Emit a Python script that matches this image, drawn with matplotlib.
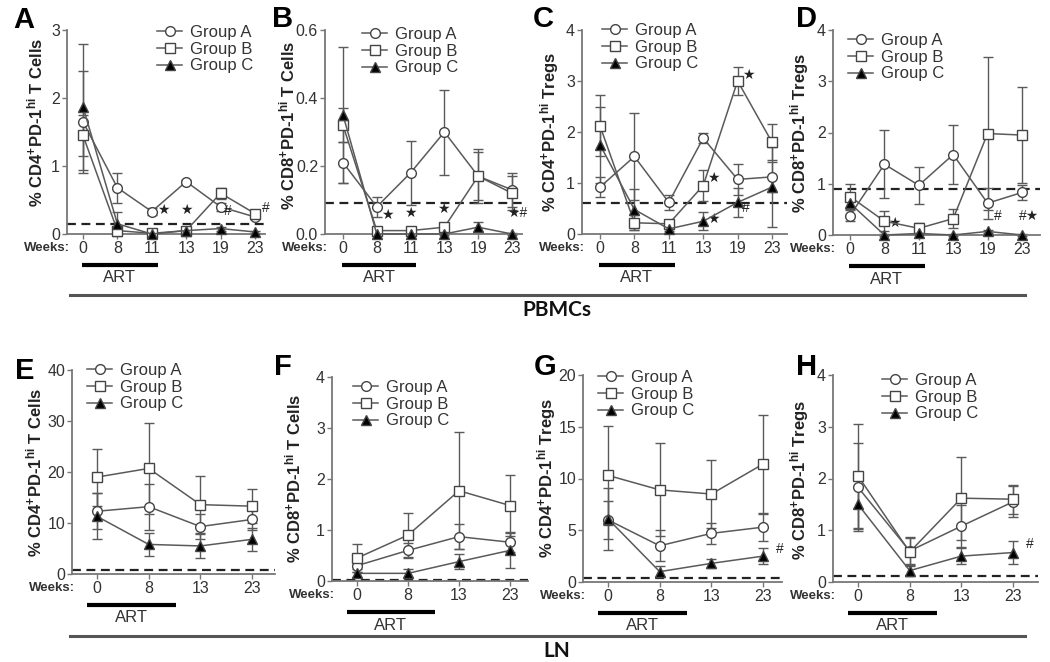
import matplotlib
matplotlib.use("Agg")
import matplotlib.pyplot as plt
from matplotlib.lines import Line2D
from matplotlib.transforms import blended_transform_factory

plt.rcParams["font.family"] = ["Liberation Sans", "DejaVu Sans"]
plt.rcParams["mathtext.fontset"] = "custom"
plt.rcParams["mathtext.rm"] = "Liberation Sans"
plt.rcParams["mathtext.bf"] = "Liberation Sans:bold"
plt.rcParams["mathtext.default"] = "bf"

W, H = 1050, 662

# ---- data ----
weeks_pbmc = ["0", "8", "11", "13", "19", "23"]
weeks_ln = ["0", "8", "13", "23"]
groups = ["Group A", "Group B", "Group C"]

a_grp_a = [1.65, 0.68, 0.33, 0.77, 0.40, 0.25]
a_grp_b = [1.45, 0.05, 0.01, 0.05, 0.60, 0.30]
a_grp_c = [1.87, 0.15, 0.00, 0.05, 0.08, 0.03]
a_err_a = [0.75, 0.22, 0.05, 0.03, 0.06, 0.03]
a_err_b = [0.30, 0.03, 0.01, 0.02, 0.08, 0.04]
a_err_c = [0.93, 0.18, 0.01, 0.03, 0.03, 0.02]

b_grp_a = [0.21, 0.08, 0.18, 0.30, 0.17, 0.13]
b_grp_b = [0.32, 0.01, 0.01, 0.02, 0.17, 0.12]
b_grp_c = [0.35, 0.00, 0.00, 0.00, 0.02, 0.00]
b_err_a = [0.06, 0.03, 0.095, 0.125, 0.07, 0.05]
b_err_b = [0.05, 0.005, 0.005, 0.01, 0.08, 0.05]
b_err_c = [0.20, 0.003, 0.003, 0.003, 0.015, 0.003]

c_grp_a = [0.92, 1.52, 0.62, 1.88, 1.07, 1.12]
c_grp_b = [2.12, 0.22, 0.20, 0.95, 3.00, 1.80]
c_grp_c = [1.75, 0.48, 0.10, 0.25, 0.62, 0.92]
c_err_a = [0.20, 0.85, 0.15, 0.10, 0.30, 0.30]
c_err_b = [0.60, 0.15, 0.08, 0.30, 0.28, 0.35]
c_err_c = [0.75, 0.40, 0.05, 0.18, 0.28, 0.78]

d_grp_a = [0.38, 1.38, 0.97, 1.57, 0.62, 0.83]
d_grp_b = [0.75, 0.27, 0.13, 0.32, 1.98, 1.95]
d_grp_c = [0.62, 0.00, 0.03, 0.00, 0.07, 0.00]
d_err_a = [0.10, 0.66, 0.36, 0.57, 0.30, 0.15]
d_err_b = [0.25, 0.20, 0.10, 0.18, 1.50, 0.93]
d_err_c = [0.10, 0.01, 0.02, 0.01, 0.03, 0.01]

e_grp_a = [12.3, 13.2, 9.3, 10.7]
e_grp_b = [19.0, 20.7, 13.6, 13.3]
e_grp_c = [11.3, 5.8, 5.5, 6.8]
e_err_a = [3.5, 4.5, 2.5, 2.0]
e_err_b = [5.6, 9.0, 5.6, 3.3]
e_err_c = [4.5, 2.2, 2.3, 2.2]

f_grp_a = [0.30, 0.60, 0.87, 0.76]
f_grp_b = [0.45, 0.90, 1.77, 1.48]
f_grp_c = [0.15, 0.15, 0.38, 0.60]
f_err_a = [0.12, 0.15, 0.25, 0.20]
f_err_b = [0.27, 0.43, 1.15, 0.60]
f_err_c = [0.08, 0.08, 0.15, 0.35]

g_grp_a = [6.0, 3.5, 4.7, 5.3]
g_grp_b = [10.3, 8.9, 8.5, 11.4]
g_grp_c = [6.1, 1.0, 1.8, 2.5]
g_err_a = [1.8, 1.5, 1.0, 1.3]
g_err_b = [4.8, 4.5, 3.3, 4.7]
g_err_c = [3.0, 0.5, 0.4, 0.8]

h_grp_a = [1.83, 0.60, 1.08, 1.55]
h_grp_b = [2.05, 0.58, 1.62, 1.60]
h_grp_c = [1.50, 0.22, 0.50, 0.57]
h_err_a = [0.85, 0.25, 0.40, 0.30]
h_err_b = [1.00, 0.28, 0.80, 0.28]
h_err_c = [0.48, 0.10, 0.15, 0.22]

baselines = {"A": 0.14, "B": 0.09, "C": 0.6, "D": 0.9, "E": 0.8, "F": 0.02, "G": 0.4, "H": 0.12}

ylabels = {
    "A": r"% CD4$^{+}$PD-1$^{hi}$ T Cells",
    "B": r"% CD8$^{+}$PD-1$^{hi}$ T Cells",
    "C": r"% CD4$^{+}$PD-1$^{hi}$ Tregs",
    "D": r"% CD8$^{+}$PD-1$^{hi}$ Tregs",
    "E": r"% CD4$^{+}$PD-1$^{hi}$ T Cells",
    "F": r"% CD8$^{+}$PD-1$^{hi}$ T Cells",
    "G": r"% CD4$^{+}$PD-1$^{hi}$ Tregs",
    "H": r"% CD8$^{+}$PD-1$^{hi}$ Tregs",
}

# significance marks: (text, x index, y value)
marks = {
    "A": [("★", 2.33, 0.25), ("★", 3.0, 0.25), ("#", 4.2, 0.23), ("#", 5.3, 0.28)],
    "B": [("★", 1.3, 0.035), ("★", 1.98, 0.04), ("★", 2.96, 0.053), ("★#", 5.15, 0.04)],
    "C": [("★", 3.3, 0.96), ("★", 4.3, 2.98), ("★", 3.3, 0.16), ("#", 4.25, 0.37)],
    "D": [("★", 1.3, 0.1), ("#", 4.3, 0.23), ("#★", 5.2, 0.23)],
    "E": [],
    "F": [],
    "G": [("#", 3.33, 2.5)],
    "H": [("#", 3.33, 0.6)],
}

# ---- layout (pixels) ----
# left, right, top, zero-line, x of first tick, tick step, ymax, yticks
panels = {
    "A": (67, 265, 30, 234, 83, 34.4, 3, [0, 1, 2, 3]),
    "B": (325, 522, 30, 234, 343, 33.8, 0.6, [0.0, 0.2, 0.4, 0.6]),
    "C": (582, 787, 30, 234, 600, 34.4, 4, [0, 1, 2, 3, 4]),
    "D": (833, 1040, 30, 235, 850, 34.4, 4, [0, 1, 2, 3, 4]),
    "E": (72, 275, 370, 574, 97, 51.7, 40, [0, 10, 20, 30, 40]),
    "F": (332, 528, 377, 581, 357, 51.0, 4, [0, 1, 2, 3, 4]),
    "G": (583, 782, 375, 582, 608, 51.7, 20, [0, 5, 10, 15, 20]),
    "H": (833, 1038, 375, 582, 858, 51.7, 4, [0, 1, 2, 3, 4]),
}
ylab_pos = {"A": (35, 122), "B": (287, 125), "C": (550, 132), "D": (800, 133),
            "E": (34, 472), "F": (293, 478), "G": (547, 478), "H": (800, 480)}
letter_pos = {"A": (24, 20), "B": (283, 19), "C": (543, 19), "D": (807, 19),
              "E": (25, 371), "F": (283, 367), "G": (545, 367), "H": (807, 367)}
legend_pos = {"A": (157, 35), "B": (362, 37), "C": (602, 33), "D": (848, 43),
              "E": (87, 373), "F": (353, 390), "G": (598, 380), "H": (882, 383)}

series = {
    "A": (a_grp_a, a_grp_b, a_grp_c, a_err_a, a_err_b, a_err_c),
    "B": (b_grp_a, b_grp_b, b_grp_c, b_err_a, b_err_b, b_err_c),
    "C": (c_grp_a, c_grp_b, c_grp_c, c_err_a, c_err_b, c_err_c),
    "D": (d_grp_a, d_grp_b, d_grp_c, d_err_a, d_err_b, d_err_c),
    "E": (e_grp_a, e_grp_b, e_grp_c, e_err_a, e_err_b, e_err_c),
    "F": (f_grp_a, f_grp_b, f_grp_c, f_err_a, f_err_b, f_err_c),
    "G": (g_grp_a, g_grp_b, g_grp_c, g_err_a, g_err_b, g_err_c),
    "H": (h_grp_a, h_grp_b, h_grp_c, h_err_a, h_err_b, h_err_c),
}

GRAY = "#5a5a5a"
TXT = "#333333"
styles = [dict(marker="o", mfc="white"), dict(marker="s", mfc="white"), dict(marker="^", mfc="black")]

fig = plt.figure(figsize=(W / 100, H / 100), dpi=100)


def fx(x):
    return x / W


def fy(y):
    return 1 - y / H


for key, (left, right, top, zero, x0, step, ymax, yticks) in panels.items():
    ax = fig.add_axes([fx(left), fy(zero), (right - left) / W, (zero - top) / H])
    ax.patch.set_alpha(0)
    weeks = weeks_pbmc if key in "ABCD" else weeks_ln
    xs = list(range(len(weeks)))
    vals = series[key]

    handles = []
    for i in range(3):
        ax.errorbar(xs, vals[i], yerr=vals[i + 3], fmt="none", ecolor=GRAY,
                    elinewidth=1, capsize=3.5, capthick=1, zorder=2, clip_on=False)
        ln, = ax.plot(xs, vals[i], color=GRAY, lw=1.1, ms=7, mec="#444444", mew=1,
                      zorder=3 + i, clip_on=False, **styles[i])
        handles.append(ln)

    ax.axhline(baselines[key], color="#222222", lw=1.6, ls=(0, (4, 2.5)), zorder=1)

    ax.set_xlim((left - x0) / step, (right - x0) / step)
    ax.set_ylim(0, ymax)
    ax.set_xticks(xs)
    ax.set_xticklabels(weeks)
    ax.set_yticks(yticks)
    if key == "B":
        ax.set_yticklabels([f"{t:.1f}" for t in yticks])
    for s in ["top", "right"]:
        ax.spines[s].set_visible(False)
    for s in ["left", "bottom"]:
        ax.spines[s].set_color("#777777")
        ax.spines[s].set_linewidth(1.3)
    ax.tick_params(axis="both", length=3.5, width=1, color="#777777", labelsize=11.5,
                   labelcolor=TXT, pad=1.5)

    # significance marks
    for txt, mx, my in marks[key]:
        ax.text(mx, my, txt, fontsize=10, color="#222222", ha="center", va="bottom",
                family=["Liberation Sans", "DejaVu Sans"])

    # ART bar and week label
    tr = blended_transform_factory(ax.transData, fig.transFigure)
    if key in "ABCD":
        bar = (-0.03, 2.17)
    else:
        bar = (-0.2, 1.53)
    ax.plot(bar, [fy(zero + 31)] * 2, transform=tr, color="black", lw=3,
            clip_on=False, solid_capstyle="butt")
    ax.text(sum(bar) / 2, fy(zero + 44), "ART", transform=tr, ha="center", va="center",
            fontsize=12, color=TXT)
    fig.text(fx(left + 3), fy(zero + 14), "Weeks:", ha="right", va="center",
             fontsize=9.5, fontweight="bold", color=TXT)

    # y label and panel letter
    lx, ly = ylab_pos[key]
    fig.text(fx(lx), fy(ly), ylabels[key], rotation=90, ha="center", va="center",
             fontsize=12, fontweight="bold", color="#222222")
    px, py = letter_pos[key]
    fig.text(fx(px), fy(py), key, ha="center", va="center", fontsize=21,
             fontweight="bold", color="black")

    # legend
    gx, gy = legend_pos[key]
    ax.legend(handles, groups, loc="upper left", bbox_to_anchor=(fx(gx), fy(gy - 10)),
              bbox_transform=fig.transFigure, frameon=False, borderpad=0,
              borderaxespad=0, handlelength=1.5, handletextpad=0.5,
              labelspacing=0.1, fontsize=12, labelcolor=TXT)

# section dividers
for yline, label, ylab in [(295, "PBMCs", 310), (636, "LN", 651)]:
    fig.add_artist(Line2D([fx(70), fx(1025)], [fy(yline)] * 2, transform=fig.transFigure,
                          color="#555555", lw=2.2))
    fig.text(fx(557), fy(ylab), label, ha="center", va="center", fontsize=15,
             fontweight="bold", family="Lato", color="#111111")

fig.savefig("out.png", dpi=100)
